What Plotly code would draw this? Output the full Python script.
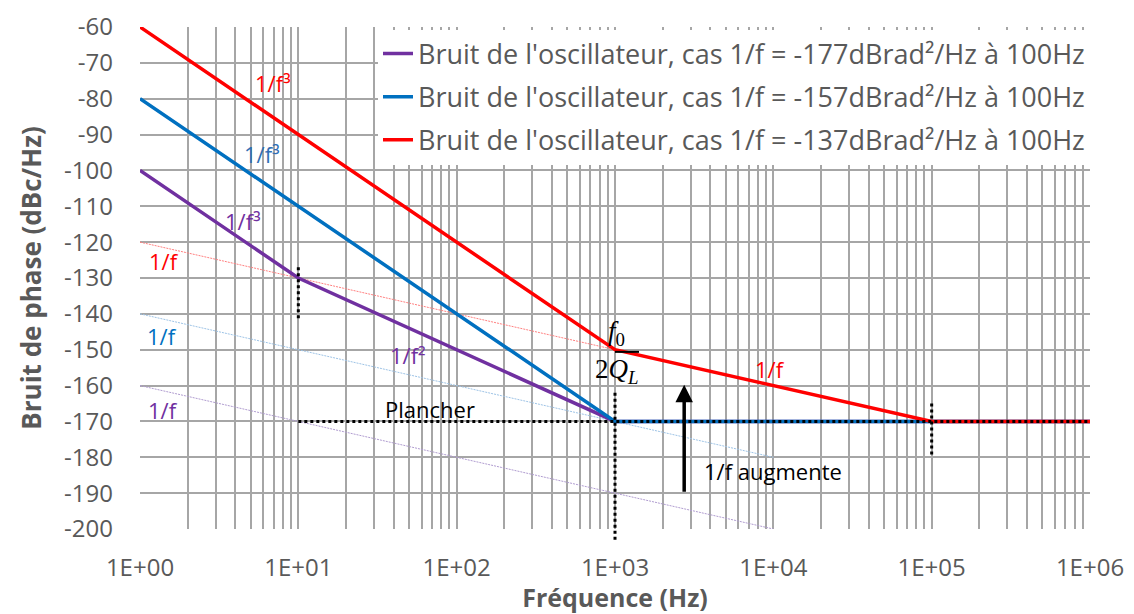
import plotly.graph_objects as go

# Oscillator phase noise asymptotes (frequency in Hz, level in dBc/Hz)
purple_f = [1, 10, 1e3, 1e6]
purple_l = [-100, -130, -170, -170]
blue_f = [1, 1e3, 1e6]
blue_l = [-80, -170, -170]
red_f = [1, 1e3, 1e5, 1e6]
red_l = [-60, -150, -170, -170]

# thin 1/f guide lines
guide_red_f = [1, 1e3]
guide_red_l = [-120, -150]
guide_blue_f = [1, 1e4]
guide_blue_l = [-140, -180]
guide_purple_f = [1, 1e4]
guide_purple_l = [-160, -200]

# noise floor and corner markers
floor_f = [10, 1e6]
floor_l = [-170, -170]
corner_f = [10, 1e3, 1e5]
corner_top = [-127, -162, -165]
corner_bot = [-142, -203, -180]

legend_names = [
    "Bruit de l'oscillateur, cas 1/f = -177dBrad²/Hz à 100Hz",
    "Bruit de l'oscillateur, cas 1/f = -157dBrad²/Hz à 100Hz",
    "Bruit de l'oscillateur, cas 1/f = -137dBrad²/Hz à 100Hz",
]
x_ticks = [1, 10, 100, 1e3, 1e4, 1e5, 1e6]
x_labels = ["1E+00", "1E+01", "1E+02", "1E+03", "1E+04", "1E+05", "1E+06"]
y_ticks = list(range(-200, -59, 10))
y_labels = [str(v) for v in y_ticks]

PURPLE = "#7030A0"
BLUE = "#0070C0"
RED = "#FF0000"
GREY = "#595959"
FONT = "Open Sans"

fig = go.Figure()

# guides first so the main curves sit on top
for f, l, c in [
    (guide_red_f, guide_red_l, "#FF8080"),
    (guide_blue_f, guide_blue_l, "#9DC3E6"),
    (guide_purple_f, guide_purple_l, "#B09CD0"),
]:
    fig.add_trace(go.Scatter(x=f, y=l, mode="lines", showlegend=False,
                             line=dict(color=c, width=1, dash="2px,1px"), hoverinfo="skip"))

for i, (f, l, c) in enumerate([(purple_f, purple_l, PURPLE), (blue_f, blue_l, BLUE), (red_f, red_l, RED)]):
    fig.add_trace(go.Scatter(x=f, y=l, mode="lines", name=legend_names[i], legendgroup=str(i),
                             line=dict(color=c, width=3.5)))

fig.add_trace(go.Scatter(x=floor_f, y=floor_l, mode="lines", showlegend=False,
                         line=dict(color="black", width=3, dash="dot"), hoverinfo="skip"))

# vertical dotted markers at the corner frequencies (paper y so they may pass the axis)
for f, top, bot in zip(corner_f, corner_top, corner_bot):
    fig.add_shape(type="line", xref="x", yref="paper", x0=f, x1=f,
                  y0=(top + 200) / 140, y1=(bot + 200) / 140,
                  line=dict(color="black", width=3, dash="dot"))

# grid on every 1..9 multiple of each decade
grid_vals = [m * 10 ** d for d in range(6) for m in range(1, 10)] + [1e6]
grid_text = [x_labels[x_ticks.index(v)] if v in x_ticks else "" for v in grid_vals]

lab = dict(family=FONT, size=22)
annots = [
    dict(x=0.84, y=-75.6, text="1/f³", font=dict(lab, color=RED)),
    dict(x=0.77, y=-95.4, text="1/f³", font=dict(lab, color="#2F6EB5")),
    dict(x=0.65, y=-114.1, text="1/f³", font=dict(lab, color=PURPLE)),
    dict(x=0.152, y=-125.3, text="1/f", font=dict(lab, color=RED)),
    dict(x=0.14, y=-146.2, text="1/f", font=dict(lab, color=BLUE)),
    dict(x=0.146, y=-166.8, text="1/f", font=dict(lab, color=PURPLE)),
    dict(x=1.69, y=-151.5, text="1/f²", font=dict(lab, color=PURPLE)),
    dict(x=3.98, y=-155.4, text="1/f", font=dict(lab, color=RED)),
    dict(x=1.83, y=-166.5, text="Plancher", font=dict(family=FONT, size=22, color="black")),
    dict(x=3.55, y=-183.8, text="1/f augmente", xanchor="left", font=dict(family=FONT, size=22, color="black")),
    dict(x=3.01, y=-145.3, text="<i>f</i><sub>0</sub>", font=dict(family="Liberation Serif", size=27, color="black")),
    dict(x=3.01, y=-156.0, text="2<i>Q</i><sub><i>L</i></sub>", font=dict(family="Liberation Serif", size=27, color="black")),
]
for a in annots:
    a.setdefault("showarrow", False)
    fig.add_annotation(**a)

# upward arrow "1/f augmente"
fig.add_annotation(x=3.437, y=-159.8, ax=3.437, ay=-190, axref="x", ayref="y", text="",
                   showarrow=True, arrowhead=2, arrowsize=1, arrowwidth=3.5, arrowcolor="black", standoff=0)

# fraction bar for f0 / 2QL
fig.add_shape(type="line", xref="x", yref="y", xsizemode="pixel", xanchor=1e3,
              x0=-20, x1=24, y0=-150.6, y1=-150.6, line=dict(color="black", width=2))

# chart frame
fig.add_shape(type="rect", xref="paper", yref="paper", x0=-0.14, x1=1.1, y0=-0.3, y1=1.04,
              line=dict(color="#D9D9D9", width=2), layer="below")

fig.update_xaxes(type="log", range=[0, 6], tickvals=grid_vals, ticktext=grid_text, automargin=False,
                 showgrid=True, gridcolor="#A6A6A6", gridwidth=1.5, zeroline=False,
                 tickfont=dict(family=FONT, size=24, color=GREY), ticklabelstandoff=22,
                 title=dict(text="<b>Fréquence (Hz)</b>", font=dict(family=FONT, size=25, color=GREY), standoff=4))
fig.update_yaxes(range=[-200, -60], tickvals=y_ticks, ticktext=y_labels, automargin=False,
                 showgrid=True, gridcolor="#A6A6A6", gridwidth=1.5,
                 zeroline=False, tickfont=dict(family=FONT, size=24, color=GREY), ticklabelstandoff=26,
                 title=dict(text="<b>Bruit de phase (dBc/Hz)</b>", font=dict(family=FONT, size=26, color=GREY), standoff=15))

# the page body adds an 8px offset, so the figure is drawn 8px smaller
fig.update_layout(
    width=1126, height=606,
    margin=dict(l=132, r=44, t=19, b=85),
    plot_bgcolor="white", paper_bgcolor="white",
    legend=dict(x=1, xanchor="right", y=0.995, yanchor="top", bgcolor="white",
                font=dict(family=FONT, size=27, color=GREY), tracegroupgap=5, itemwidth=30),
)

fig.write_html("out.html")
